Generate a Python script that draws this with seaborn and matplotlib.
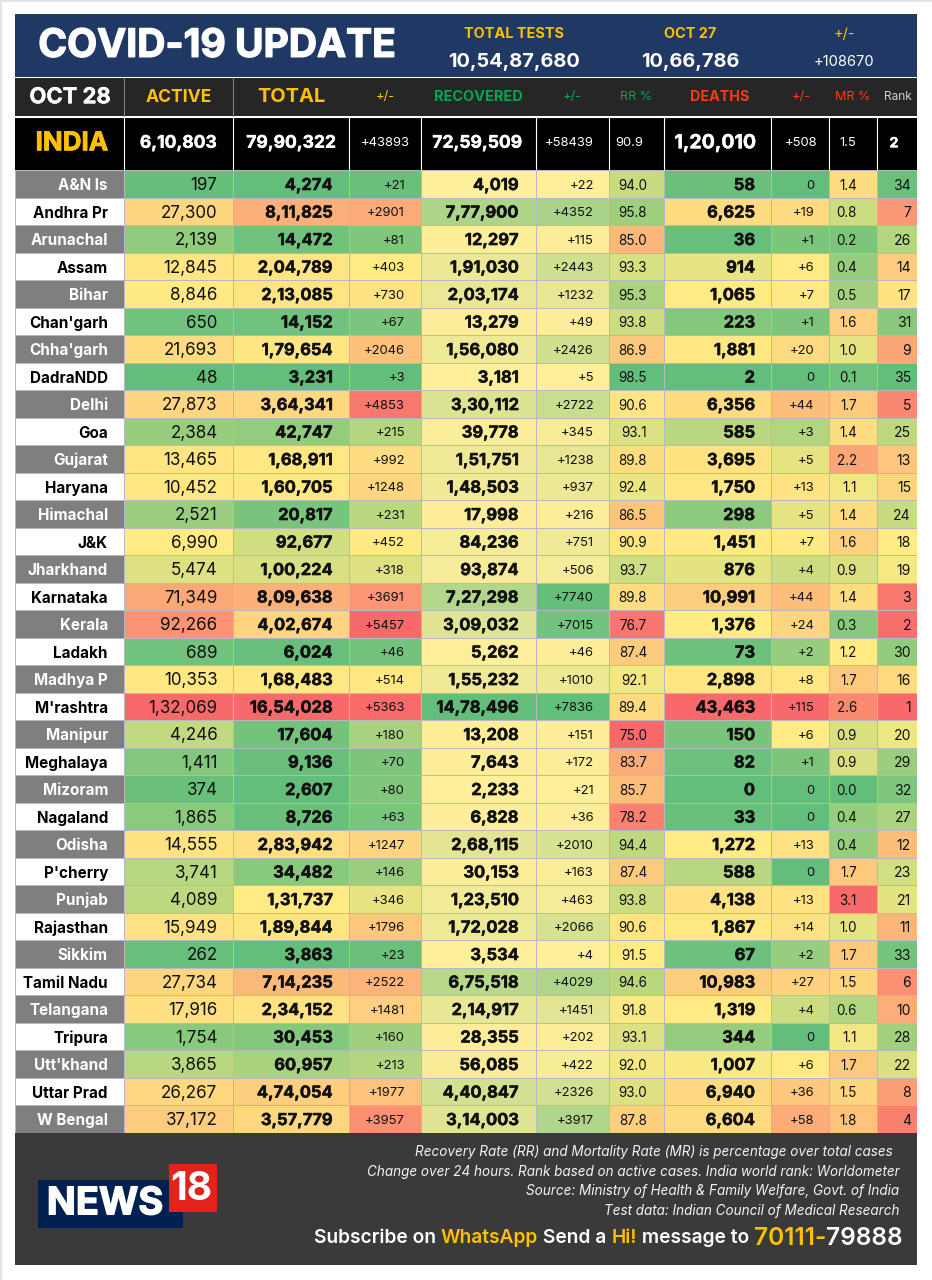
import numpy as np
import matplotlib
matplotlib.use("Agg")
import matplotlib.pyplot as plt
import matplotlib.patheffects as pe
from matplotlib.colors import LinearSegmentedColormap, TwoSlopeNorm, Normalize, ListedColormap
from matplotlib.patches import Rectangle
import seaborn as sns

states = ["A&N Is","Andhra Pr","Arunachal","Assam","Bihar","Chan'garh","Chha'garh","DadraNDD","Delhi","Goa","Gujarat","Haryana","Himachal","J&K","Jharkhand","Karnataka","Kerala","Ladakh","Madhya P","M'rashtra","Manipur","Meghalaya","Mizoram","Nagaland","Odisha","P'cherry","Punjab","Rajasthan","Sikkim","Tamil Nadu","Telangana","Tripura","Utt'khand","Uttar Prad","W Bengal"]
active = [197,27300,2139,12845,8846,650,21693,48,27873,2384,13465,10452,2521,6990,5474,71349,92266,689,10353,132069,4246,1411,374,1865,14555,3741,4089,15949,262,27734,17916,1754,3865,26267,37172]
total = [4274,811825,14472,204789,213085,14152,179654,3231,364341,42747,168911,160705,20817,92677,100224,809638,402674,6024,168483,1654028,17604,9136,2607,8726,283942,34482,131737,189844,3863,714235,234152,30453,60957,474054,357779]
total_delta = [21,2901,81,403,730,67,2046,3,4853,215,992,1248,231,452,318,3691,5457,46,514,5363,180,70,80,63,1247,146,346,1796,23,2522,1481,160,213,1977,3957]
recovered = [4019,777900,12297,191030,203174,13279,156080,3181,330112,39778,151751,148503,17998,84236,93874,727298,309032,5262,155232,1478496,13208,7643,2233,6828,268115,30153,123510,172028,3534,675518,214917,28355,56085,440847,314003]
recovered_delta = [22,4352,115,2443,1232,49,2426,5,2722,345,1238,937,216,751,506,7740,7015,46,1010,7836,151,172,21,36,2010,163,463,2066,4,4029,1451,202,422,2326,3917]
rr_pct = [94.0,95.8,85.0,93.3,95.3,93.8,86.9,98.5,90.6,93.1,89.8,92.4,86.5,90.9,93.7,89.8,76.7,87.4,92.1,89.4,75.0,83.7,85.7,78.2,94.4,87.4,93.8,90.6,91.5,94.6,91.8,93.1,92.0,93.0,87.8]
deaths = [58,6625,36,914,1065,223,1881,2,6356,585,3695,1750,298,1451,876,10991,1376,73,2898,43463,150,82,0,33,1272,588,4138,1867,67,10983,1319,344,1007,6940,6604]
deaths_delta = [0,19,1,6,7,1,20,0,44,3,5,13,5,7,4,44,24,2,8,115,6,1,0,0,13,0,13,14,2,27,4,0,6,36,58]
mr_pct = [1.4,0.8,0.2,0.4,0.5,1.6,1.0,0.1,1.7,1.4,2.2,1.1,1.4,1.6,0.9,1.4,0.3,1.2,1.7,2.6,0.9,0.9,0.0,0.4,0.4,1.7,3.1,1.0,1.7,1.5,0.6,1.1,1.7,1.5,1.8]
rank = [34,7,26,14,17,31,9,35,5,25,13,15,24,18,19,3,2,30,16,1,20,29,32,27,12,23,21,11,33,6,10,28,22,8,4]

india_row = ["6,10,803","79,90,322","+43893","72,59,509","+58439","90.9","1,20,010","+508","1.5","2"]
header_row = ["ACTIVE","TOTAL","+/-","RECOVERED","+/-","RR %","DEATHS","+/-","MR %","Rank"]
tests_heads = ["TOTAL TESTS","OCT 27","+/-"]
tests_vals = ["10,54,87,680","10,66,786","+108670"]
notes = ["Recovery Rate (RR) and Mortality Rate (MR) is percentage over total cases",
         "Change over 24 hours. Rank based on active cases. India world rank: Worldometer",
         "Source: Ministry of Health & Family Welfare, Govt. of India",
         "Test data: Indian Council of Medical Research"]

W, H = 932, 1280
FONT = "Inter"
sns.set_style("white")
plt.rcParams["font.family"] = [FONT, "DejaVu Sans"]

GREEN, YELLOW, RED = "#63BE7B", "#FFEB84", "#F8696B"
AMBER, HGREEN, HRED = "#FFC000", "#00A651", "#FF3A12"
GRID = "#B9B7C4"
NAVY, DARK, FOOT = "#203864", "#262626", "#3B3A3A"

def thick(lw, color):
    return [pe.withStroke(linewidth=lw, foreground=color)]

fig = plt.figure(figsize=(W/100, H/100), dpi=100, facecolor="white")
under = fig.add_axes([0, 0, 1, 1], zorder=0)
under.set_xlim(0, W); under.set_ylim(H, 0); under.axis("off")
bg = fig.add_axes([0, 0, 1, 1], zorder=2)
bg.set_xlim(0, W); bg.set_ylim(H, 0); bg.axis("off"); bg.patch.set_visible(False)

def rect(x0, y0, x1, y1, fc):
    under.add_patch(Rectangle((x0, y0), x1-x0, y1-y0, fc=fc, ec="none"))

rect(0, 0, W, 2, "#E3E3E3"); rect(0, 0, 2, H, "#E3E3E3")
rect(15, 13.5, 917, 77, NAVY)
rect(15, 78, 917, 116, DARK)
rect(15, 117, 917, 170, "black")
rect(15, 1132.5, 917, 1264.5, FOOT)

edges = [15, 124, 233, 349, 421, 536, 609, 664, 771, 829, 877, 917]
ROW_TOP, ROW_H = 170, 27.5
n = len(states)
ROW_BOT = ROW_TOP + n*ROW_H
YOFF = 0.065

for x in edges[1:3]:
    under.plot([x, x], [78, 116], color="#7F7F7F", lw=0.8)
for x in edges[1:-1]:
    under.plot([x, x], [117, 170], color="white", lw=0.8)
under.plot([15, 917], [116.5, 116.5], color="white", lw=0.8)

def T(x, y, s, size, color="white", weight="normal", ha="center", stroke=0, **kw):
    t = bg.text(x, y+2.3, s, fontsize=size*0.72, color=color, fontweight=weight, ha=ha, va="center", **kw)
    if stroke:
        t.set_path_effects(thick(stroke, color))
    return t

def indian(v):
    s = str(v)
    if len(s) <= 3:
        return s
    head, tail = s[:-3], s[-3:]
    parts = []
    while len(head) > 2:
        parts.insert(0, head[-2:]); head = head[:-2]
    if head:
        parts.insert(0, head)
    return ",".join(parts + [tail])

def delta(v):
    return "0" if v == 0 else f"+{v}"

cm_low_good = LinearSegmentedColormap.from_list("gyr", [GREEN, YELLOW, RED])
cm_high_good = LinearSegmentedColormap.from_list("ryg", [RED, YELLOW, GREEN])
cm_yg = LinearSegmentedColormap.from_list("yg", ["#FFEE9A", GREEN])

def three(v):
    return TwoSlopeNorm(vmin=min(v), vcenter=float(np.median(v)), vmax=max(v))

columns = [
    (active, indian, cm_low_good, three(active), 17, 15.5, "normal"),
    (total, indian, cm_low_good, three(total), 16.5, 16.5, "bold"),
    (total_delta, delta, cm_low_good, three(total_delta), 13, 16, "normal"),
    (recovered, indian, cm_yg, Normalize(0, max(recovered)), 16.5, 17.5, "bold"),
    (recovered_delta, delta, cm_yg, Normalize(0, max(recovered_delta)), 13, 15, "normal"),
    (rr_pct, lambda v: f"{v:.1f}", cm_high_good, three(rr_pct), 13.5, 17, "normal"),
    (deaths, indian, cm_low_good, three(deaths), 16.5, 16, "bold"),
    (deaths_delta, delta, cm_low_good, three(deaths_delta), 13, 14.5, "normal"),
    (mr_pct, lambda v: f"{v:.1f}", cm_low_good, three(mr_pct), 13.5, 20, "normal"),
    (rank, str, cm_high_good, TwoSlopeNorm(vmin=1, vcenter=18, vmax=35), 14, 6, "normal"),
]

def col_axes(x0, x1):
    return fig.add_axes([x0/W, 1-ROW_BOT/H, (x1-x0)/W, n*ROW_H/H], zorder=1)

# state column
ax = col_axes(edges[0], edges[1])
stripe = np.array([[i % 2] for i in range(n)])
sns.heatmap(stripe, ax=ax, cmap=ListedColormap(["#7F7F7F", "white"]), cbar=False,
            linewidths=0.6, linecolor=GRID, xticklabels=False, yticklabels=False)
for i, s in enumerate(states):
    c = "white" if i % 2 == 0 else "black"
    ax.text(1-16/(edges[1]-edges[0]), i+0.5+YOFF, s, fontsize=15.2*0.72, fontweight="bold",
            color=c, ha="right", va="center")

for k, (vals, fmt, cmap, norm, size, pad, weight) in enumerate(columns):
    ax = col_axes(edges[k+1], edges[k+2])
    data = np.array(vals, dtype=float).reshape(-1, 1)
    sns.heatmap(data, ax=ax, cmap=cmap, norm=norm, cbar=False, linewidths=0.6,
                linecolor=GRID, xticklabels=False, yticklabels=False)
    xr = 1 - pad/(edges[k+2]-edges[k+1])
    for i, v in enumerate(vals):
        t = ax.text(xr, i+0.5+YOFF, fmt(v), fontsize=size*0.72, fontweight=weight,
                    color="#111111", ha="right", va="center")
        if weight == "bold":
            t.set_path_effects(thick(0.35, "#111111"))

# top banner
T(217, 44, "COVID-19 UPDATE", 39, weight="bold", stroke=1.0)
for x, h, v, vs, vw in zip([514, 690, 844], tests_heads, tests_vals, [20, 20, 14.7], ["bold", "bold", "normal"]):
    T(x, 32, h, 14.5, color=AMBER, weight="bold" if h != "+/-" else "normal")
    T(x, 60, v, vs, weight=vw)

# header row
T(70, 95, "OCT 28", 22, weight="bold", stroke=0.3)
hx = [179, 291, 385, 478, 572, 636, 720, 801, 853, 898]
hc = [AMBER, AMBER, AMBER, HGREEN, HGREEN, HGREEN, HRED, HRED, HRED, "#D0D0D0"]
hs = [17.6, 20, 13, 14.5, 13, 12.5, 14.3, 13, 12.5, 12]
hw = ["bold", "bold", "normal", "bold", "normal", "normal", "bold", "normal", "normal", "normal"]
for x, s, c, sz, w in zip(hx, header_row, hc, hs, hw):
    T(x, 95, s, sz, color=c, weight=w)

# India row
T(72, 141, "INDIA", 26, color=AMBER, weight="bold", stroke=0.6)
ix = [178, 291, 385, 477, 569, 629, 715, 801, 848, 894]
isz = [17.5, 17.5, 13, 17.5, 13, 13, 19.5, 13, 13, 14]
iw = ["bold", "bold", "normal", "bold", "normal", "normal", "bold", "normal", "normal", "bold"]
for x, s, sz, w in zip(ix, india_row, isz, iw):
    T(x, 141, s, sz, weight=w, stroke=0.3 if w == "bold" else 0)

# footer notes
for y, x, s in zip([1150, 1170, 1189, 1209], [893, 900, 899, 899], notes):
    T(x, y, s, 13.5, style="italic", ha="right", color="#F2F2F2")

# subscribe line, laid out from its left edge with measured widths
segments = [("Subscribe on ", "white", 19.2), ("WhatsApp", AMBER, 19.2), (" Send a ", "white", 19.2),
            ("Hi!", AMBER, 19.2), (" message to ", "white", 19.2), ("70111-", AMBER, 24.5), ("79888", "white", 24.5)]
fig.canvas.draw()
r = fig.canvas.get_renderer()
x = 314
for s, c, sz in segments:
    t = T(x, 1236, s.replace(" ", "\u00a0"), sz, color=c, weight="semibold", ha="left")
    x += t.get_window_extent(r).width

# logo
under.add_patch(Rectangle((38, 1180), 145, 48, fc="#00214F", ec="none"))
bg.add_patch(Rectangle((169, 1164), 48, 48, fc="#E3231B", ec="none"))
T(105, 1202, "NEWS", 38, weight="bold", stroke=1.0)
bg.text(191, 1189, "18", fontsize=39*0.72, color="white", fontweight="bold", ha="center", va="center")

fig.savefig("out.png", dpi=100, facecolor="white")
